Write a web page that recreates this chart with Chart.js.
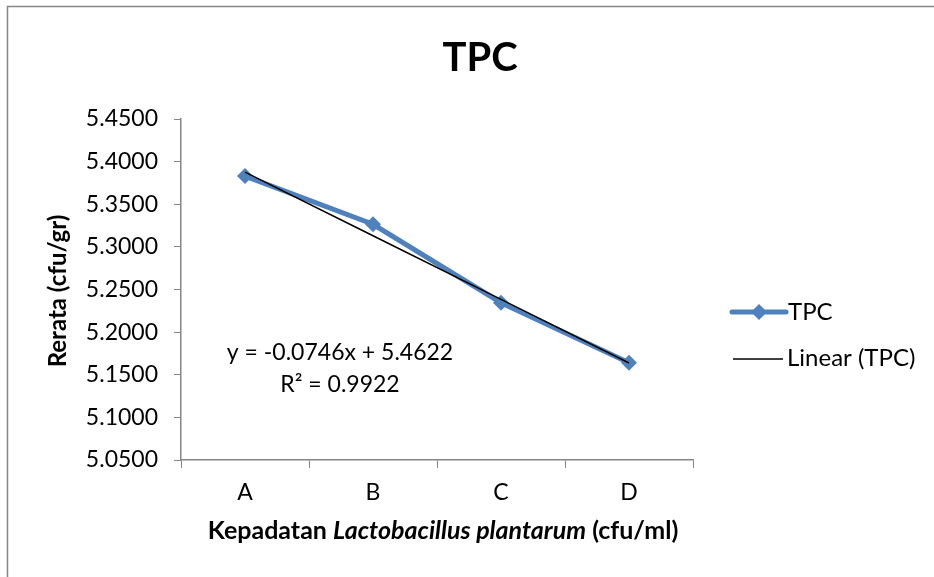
<!DOCTYPE html>
<html><head><meta charset="utf-8">
<script src="https://cdn.jsdelivr.net/npm/chart.js@4"></script>
<style>html,body{margin:0;padding:0;background:#fff}#wrap{width:934px;height:577px;position:relative}</style>
</head><body><div id="wrap"><canvas id="c" width="934" height="577"></canvas></div>
<script>
const categories = ['A','B','C','D'];
const tpcValues = [5.3830, 5.3265, 5.2345, 5.1640];
const trendValues = [5.3876, 5.3130, 5.2384, 5.1638];
const yTicks = [5.05,5.10,5.15,5.20,5.25,5.30,5.35,5.40,5.45];
const titleText = 'TPC';
const yTitle = 'Rerata (cfu/gr)';
const xTitleParts = [['Kepadatan ', 'bold'], ['Lactobacillus plantarum', 'italic bold'], [' (cfu/ml)', 'bold']];
const eqText = 'y = -0.0746x + 5.4622';
const r2Text = 'R² = 0.9922';
const legendLabels = ['TPC', 'Linear (TPC)'];
const FONT = 'Lato, "Open Sans", sans-serif';
const BLUE = '#4F81BD';

const deco = {
  id:'deco',
  beforeDraw(chart){
    const ctx = chart.ctx;
    ctx.save();
    ctx.fillStyle='#fff'; ctx.fillRect(0,0,934,577);
    ctx.strokeStyle='#868686'; ctx.lineWidth=1.5;
    ctx.strokeRect(7.5,6.5,940,580);
    ctx.restore();
  },
  afterDraw(chart){
    const ctx = chart.ctx, a = chart.chartArea;
    ctx.save();
    ctx.fillStyle='#000';
    ctx.textAlign='center'; ctx.textBaseline='middle';
    ctx.font = 'bold 40px ' + FONT;
    ctx.fillText(titleText, 480, 58);
    // y title
    ctx.save();
    ctx.translate(58, 291);
    ctx.rotate(-Math.PI/2);
    ctx.font = 'bold 24px ' + FONT;
    ctx.fillText(yTitle, 0, 0);
    ctx.restore();
    // x title
    let total = 0;
    xTitleParts.forEach(p=>{ctx.font = p[1]+' 25px '+FONT; total += ctx.measureText(p[0]).width;});
    let x = 443 - total/2;
    ctx.textAlign='left';
    xTitleParts.forEach(p=>{ctx.font = p[1]+' 25px '+FONT; ctx.fillText(p[0], x, 531); x += ctx.measureText(p[0]).width;});
    // equation
    ctx.textAlign='center';
    ctx.font = '23px ' + FONT;
    ctx.fillText(eqText, 340, 353);
    ctx.fillText(r2Text, 340, 385);
    // legend
    ctx.strokeStyle = BLUE; ctx.lineWidth = 5; ctx.lineCap='round';
    ctx.beginPath(); ctx.moveTo(732,312); ctx.lineTo(786,312); ctx.stroke();
    ctx.fillStyle = BLUE;
    ctx.beginPath(); ctx.moveTo(759,304); ctx.lineTo(767,312); ctx.lineTo(759,320); ctx.lineTo(751,312); ctx.closePath(); ctx.fill();
    ctx.strokeStyle='#000'; ctx.lineWidth=1.5; ctx.lineCap='butt';
    ctx.beginPath(); ctx.moveTo(733,359); ctx.lineTo(783,359); ctx.stroke();
    ctx.fillStyle='#000'; ctx.textAlign='left';
    ctx.font = '24px ' + FONT;
    ctx.fillText(legendLabels[0], 788, 312);
    ctx.fillText(legendLabels[1], 787, 358);
    ctx.restore();
  }
};

new Chart(document.getElementById('c'), {
  type:'line',
  data:{
    labels: categories,
    datasets:[
      {label:'TPC', data:tpcValues, borderColor:BLUE, backgroundColor:BLUE, borderWidth:5,
       pointStyle:'rectRot', pointRadius:8, pointHoverRadius:8, pointBorderWidth:0, tension:0, order:2},
      {label:'Linear (TPC)', data:trendValues, borderColor:'#000', borderWidth:1.5, pointRadius:0, tension:0, order:1}
    ]
  },
  options:{
    responsive:false, animation:false, devicePixelRatio:1,
    layout:{padding:{left:5, top:119, right:241, bottom:0}},
    plugins:{legend:{display:false}, title:{display:false}, tooltip:{enabled:false}},
    scales:{
      x:{
        offset:true,
        grid:{offset:true, drawOnChartArea:false, drawTicks:true, tickLength:8, color:'#868686'},
        border:{color:'#868686', width:1.5},
        ticks:{color:'#000', font:{family:FONT, size:23}, padding:11},
        afterFit(s){ s.height = 117; }
      },
      y:{
        min:5.05, max:5.45,
        afterBuildTicks(s){ s.ticks = yTicks.map(v=>({value:v})); },
        grid:{drawOnChartArea:false, drawTicks:true, tickLength:7, color:'#868686'},
        border:{color:'#868686', width:1.5},
        ticks:{color:'#000', font:{family:FONT, size:23}, padding:16, callback:v=>Number(v).toFixed(4)},
        afterFit(s){ s.width = 176; }
      }
    }
  },
  plugins:[deco]
});
</script></body></html>
